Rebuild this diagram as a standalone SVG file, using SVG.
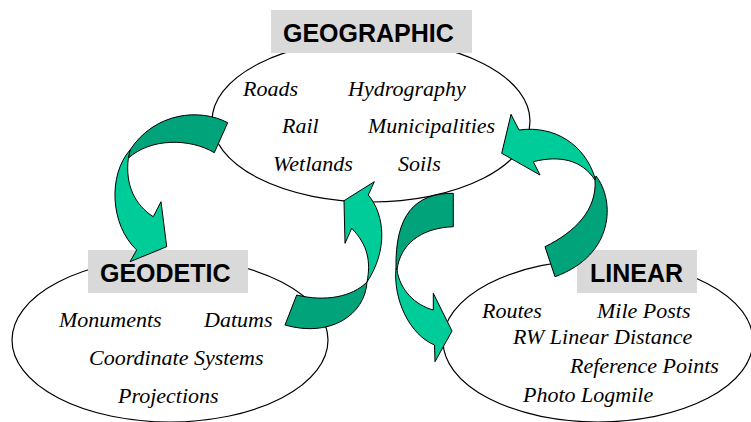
<svg xmlns="http://www.w3.org/2000/svg" width="751" height="422" viewBox="0 0 751 422">
<style>
.ell{fill:#ffffff;stroke:#000000;stroke-width:1.2}
.box{fill:#d9d9d9}
.title{font-family:"Liberation Sans",Arial,sans-serif;font-weight:bold;font-size:25px;fill:#000000}
.item{font-family:"Liberation Serif","Times New Roman",serif;font-style:italic;font-size:22px;fill:#000000}
.light{fill:#00cc99;stroke:#000000;stroke-width:1;stroke-linejoin:round}
.dark{fill:#00a37a;stroke:#000000;stroke-width:1;stroke-linejoin:round}
</style>
<rect x="0" y="0" width="751" height="422" fill="#ffffff"/>
<g id="geographic">
<ellipse class="ell" cx="371" cy="121" rx="159" ry="81"/>
<rect class="box" x="271" y="10" width="201" height="43"/>
<text class="title" x="283" y="42">GEOGRAPHIC</text>
<text class="item" x="243" y="96">Roads</text>
<text class="item" x="348" y="96">Hydrography</text>
<text class="item" x="282" y="133">Rail</text>
<text class="item" x="368" y="133">Municipalities</text>
<text class="item" x="273" y="171">Wetlands</text>
<text class="item" x="398" y="171">Soils</text>
</g>
<g id="geodetic">
<ellipse class="ell" cx="170" cy="340" rx="158" ry="82"/>
<rect class="box" x="88" y="250" width="160" height="43"/>
<text class="title" x="100" y="282">GEODETIC</text>
<text class="item" x="59" y="327">Monuments</text>
<text class="item" x="204" y="327">Datums</text>
<text class="item" x="89" y="365">Coordinate Systems</text>
<text class="item" x="118" y="403">Projections</text>
</g>
<g id="linear">
<ellipse class="ell" cx="598" cy="341" rx="155" ry="81"/>
<rect class="box" x="577" y="250" width="120" height="43"/>
<text class="title" x="590" y="282">LINEAR</text>
<text class="item" x="482" y="318">Routes</text>
<text class="item" x="597" y="318">Mile Posts</text>
<text class="item" x="513" y="344">RW Linear Distance</text>
<text class="item" x="570" y="373">Reference Points</text>
<text class="item" x="523" y="402">Photo Logmile</text>
</g>
<g id="connectors">
<g id="arrow-geographic-geodetic">
<path class="dark" d="M227.7,122.7 C200,108 155,112 130,150 L128.3,158.3 C150,138 190,138 214.3,152.7 Z"/>
<path class="light" d="M130,150 C108,175 110,225 136.7,250 L130,261.7 L166.7,246.7 L161,201.7 L153.3,216.7 C135,205 125,185 128.3,158.3 Z"/>
</g>
<g id="arrow-geodetic-geographic">
<path class="dark" d="M296.7,295 C325,302 352,297 367,282 C365,315 330,338 285,325 Z"/>
<path class="light" d="M368.3,195 C385,215 388,250 367,282 C371,262 368,245 351.7,228.3 L345,243.3 L344,200.7 L374.3,181.7 Z"/>
</g>
<g id="arrow-geographic-linear">
<path class="dark" d="M453.3,193.3 C415,193 395,215 396,268 L397,270 C400,245 420,228 453.3,226.7 Z"/>
<path class="light" d="M396,268 C393,300 410,335 434.5,345 L435,361.7 L452,331 L433.3,293.3 L433.3,310 C415,305 400,290 397,270 Z"/>
</g>
<g id="arrow-linear-geographic">
<path class="dark" d="M545,246.7 C575,232 597,210 595,180 L596,176 C615,200 615,255 555,276.7 Z"/>
<path class="light" d="M595,178 C585,145 555,125 519,130 L511,114.3 L501.7,153.3 L540,175 L533.3,161.7 C560,155 582,160 595,180 Z"/>
</g>
</g>
</svg>
